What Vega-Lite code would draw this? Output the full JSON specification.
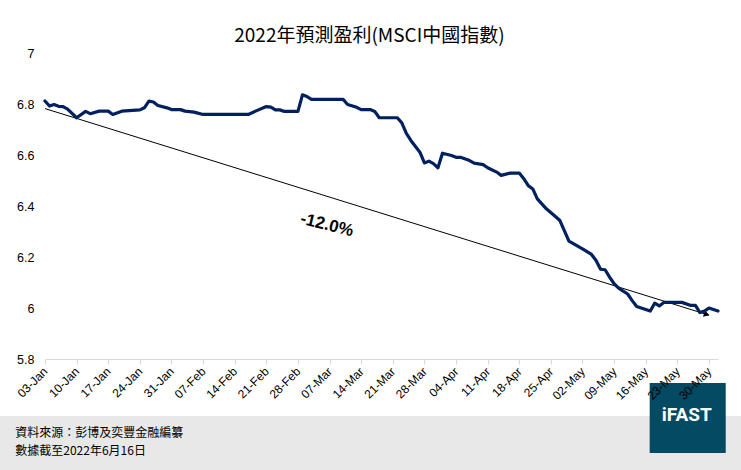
{
  "$schema": "https://vega.github.io/schema/vega-lite/v6.json",
  "width": 673,
  "height": 306,
  "autosize": {"type": "none"},
  "padding": {"left": 45, "top": 53, "right": 23, "bottom": 111},
  "background": "#ffffff",
  "config": {"view": {"stroke": null}},
  "title": {
    "text": "2022年預測盈利(MSCI中國指數)",
    "anchor": "middle",
    "font": "Noto Sans CJK TC",
    "fontSize": 19,
    "fontWeight": "normal",
    "color": "#000000",
    "offset": 1,
    "dx": -12
  },
  "datasets": {
    "eps": [
      {"date": "2022-01-03", "value": 6.812},
      {"date": "2022-01-04", "value": 6.792},
      {"date": "2022-01-05", "value": 6.798},
      {"date": "2022-01-06", "value": 6.791},
      {"date": "2022-01-07", "value": 6.79},
      {"date": "2022-01-08", "value": 6.78},
      {"date": "2022-01-10", "value": 6.746},
      {"date": "2022-01-12", "value": 6.771},
      {"date": "2022-01-13", "value": 6.762},
      {"date": "2022-01-15", "value": 6.772},
      {"date": "2022-01-17", "value": 6.772},
      {"date": "2022-01-18", "value": 6.759},
      {"date": "2022-01-20", "value": 6.772},
      {"date": "2022-01-24", "value": 6.777},
      {"date": "2022-01-25", "value": 6.785},
      {"date": "2022-01-26", "value": 6.811},
      {"date": "2022-01-27", "value": 6.808},
      {"date": "2022-01-28", "value": 6.794},
      {"date": "2022-01-30", "value": 6.785},
      {"date": "2022-01-31", "value": 6.778},
      {"date": "2022-02-02", "value": 6.778},
      {"date": "2022-02-03", "value": 6.772},
      {"date": "2022-02-05", "value": 6.768},
      {"date": "2022-02-07", "value": 6.759},
      {"date": "2022-02-17", "value": 6.759},
      {"date": "2022-02-19", "value": 6.775},
      {"date": "2022-02-21", "value": 6.79},
      {"date": "2022-02-22", "value": 6.788},
      {"date": "2022-02-23", "value": 6.777},
      {"date": "2022-02-24", "value": 6.777},
      {"date": "2022-02-25", "value": 6.771},
      {"date": "2022-02-28", "value": 6.771},
      {"date": "2022-03-01", "value": 6.836},
      {"date": "2022-03-02", "value": 6.829},
      {"date": "2022-03-03", "value": 6.818},
      {"date": "2022-03-10", "value": 6.818},
      {"date": "2022-03-11", "value": 6.798},
      {"date": "2022-03-13", "value": 6.787},
      {"date": "2022-03-14", "value": 6.778},
      {"date": "2022-03-16", "value": 6.778},
      {"date": "2022-03-17", "value": 6.771},
      {"date": "2022-03-18", "value": 6.746},
      {"date": "2022-03-22", "value": 6.746},
      {"date": "2022-03-23", "value": 6.726},
      {"date": "2022-03-24", "value": 6.685},
      {"date": "2022-03-25", "value": 6.657},
      {"date": "2022-03-27", "value": 6.611},
      {"date": "2022-03-28", "value": 6.569},
      {"date": "2022-03-29", "value": 6.576},
      {"date": "2022-03-30", "value": 6.566},
      {"date": "2022-03-31", "value": 6.55},
      {"date": "2022-04-01", "value": 6.607},
      {"date": "2022-04-03", "value": 6.598},
      {"date": "2022-04-04", "value": 6.591},
      {"date": "2022-04-05", "value": 6.591},
      {"date": "2022-04-07", "value": 6.578},
      {"date": "2022-04-08", "value": 6.568},
      {"date": "2022-04-10", "value": 6.562},
      {"date": "2022-04-11", "value": 6.55},
      {"date": "2022-04-13", "value": 6.533},
      {"date": "2022-04-14", "value": 6.52},
      {"date": "2022-04-16", "value": 6.529},
      {"date": "2022-04-18", "value": 6.529},
      {"date": "2022-04-19", "value": 6.507},
      {"date": "2022-04-20", "value": 6.48},
      {"date": "2022-04-21", "value": 6.467},
      {"date": "2022-04-22", "value": 6.428},
      {"date": "2022-04-24", "value": 6.389},
      {"date": "2022-04-26", "value": 6.359},
      {"date": "2022-04-27", "value": 6.343},
      {"date": "2022-04-29", "value": 6.262},
      {"date": "2022-05-02", "value": 6.232},
      {"date": "2022-05-04", "value": 6.21},
      {"date": "2022-05-05", "value": 6.186},
      {"date": "2022-05-06", "value": 6.152},
      {"date": "2022-05-07", "value": 6.15},
      {"date": "2022-05-08", "value": 6.121},
      {"date": "2022-05-09", "value": 6.095},
      {"date": "2022-05-10", "value": 6.078},
      {"date": "2022-05-12", "value": 6.055},
      {"date": "2022-05-13", "value": 6.029},
      {"date": "2022-05-14", "value": 6.006},
      {"date": "2022-05-17", "value": 5.988},
      {"date": "2022-05-18", "value": 6.019},
      {"date": "2022-05-19", "value": 6.008},
      {"date": "2022-05-20", "value": 6.022},
      {"date": "2022-05-24", "value": 6.022},
      {"date": "2022-05-26", "value": 6.01},
      {"date": "2022-05-27", "value": 6.01},
      {"date": "2022-05-28", "value": 5.982},
      {"date": "2022-05-29", "value": 5.988},
      {"date": "2022-05-30", "value": 6.0},
      {"date": "2022-06-01", "value": 5.988}
    ],
    "trend": [
      {"date": "2022-01-03", "value": 6.782},
      {"date": "2022-05-30", "value": 5.972}
    ],
    "arrow": [
      {"date": "2022-05-29T12:00:00Z", "value": 5.9747}
    ],
    "change": [
      {"date": "2022-03-06T10:00:00Z", "value": 6.3255, "label": "-12.0%"}
    ],
    "footer": [
      {"start": "2021-12-15T00:00:00Z", "end": "2022-06-20T00:00:00Z", "top": 5.5765, "bottom": 5.2}
    ],
    "logo": [
      {"start": "2022-05-16T21:00:00Z", "end": "2022-06-02T17:00:00Z", "top": 5.7059, "bottom": 5.4314, "mid": "2022-05-25T02:00:00Z", "centre": 5.5804, "label": "iFAST"}
    ],
    "source": [
      {"date": "2021-12-27T10:00:00Z", "value": 5.5275, "label": "資料來源：彭博及奕豐金融編纂"},
      {"date": "2021-12-27T10:00:00Z", "value": 5.4588, "label": "數據截至2022年6月16日"}
    ]
  },
  "encoding": {
    "x": {
      "field": "date",
      "type": "temporal",
      "scale": {
        "type": "utc",
        "domain": [
          {"year": 2022, "month": 1, "date": 3, "utc": true},
          {"year": 2022, "month": 6, "date": 1, "utc": true}
        ],
        "nice": false
      },
      "axis": {
        "title": null,
        "format": "%d-%b",
        "values": [
          {"year": 2022, "month": 1, "date": 3, "utc": true},
          {"year": 2022, "month": 1, "date": 10, "utc": true},
          {"year": 2022, "month": 1, "date": 17, "utc": true},
          {"year": 2022, "month": 1, "date": 24, "utc": true},
          {"year": 2022, "month": 1, "date": 31, "utc": true},
          {"year": 2022, "month": 2, "date": 7, "utc": true},
          {"year": 2022, "month": 2, "date": 14, "utc": true},
          {"year": 2022, "month": 2, "date": 21, "utc": true},
          {"year": 2022, "month": 2, "date": 28, "utc": true},
          {"year": 2022, "month": 3, "date": 7, "utc": true},
          {"year": 2022, "month": 3, "date": 14, "utc": true},
          {"year": 2022, "month": 3, "date": 21, "utc": true},
          {"year": 2022, "month": 3, "date": 28, "utc": true},
          {"year": 2022, "month": 4, "date": 4, "utc": true},
          {"year": 2022, "month": 4, "date": 11, "utc": true},
          {"year": 2022, "month": 4, "date": 18, "utc": true},
          {"year": 2022, "month": 4, "date": 25, "utc": true},
          {"year": 2022, "month": 5, "date": 2, "utc": true},
          {"year": 2022, "month": 5, "date": 9, "utc": true},
          {"year": 2022, "month": 5, "date": 16, "utc": true},
          {"year": 2022, "month": 5, "date": 23, "utc": true},
          {"year": 2022, "month": 5, "date": 30, "utc": true}
        ],
        "labelAngle": -45,
        "labelAlign": "right",
        "labelBaseline": "middle",
        "labelPadding": 5,
        "labelFont": "Liberation Sans",
        "labelFontSize": 12,
        "labelColor": "#000000",
        "labelOverlap": false,
        "labelFlush": false,
        "grid": false,
        "domainColor": "#d9d9d9",
        "tickColor": "#d9d9d9",
        "tickSize": 5,
        "zindex": 1
      }
    },
    "y": {
      "field": "value",
      "type": "quantitative",
      "scale": {"domain": [5.8, 7], "nice": false, "zero": false},
      "axis": {
        "title": null,
        "values": [5.8, 6, 6.2, 6.4, 6.6, 6.8, 7],
        "format": "~f",
        "grid": false,
        "domain": false,
        "ticks": false,
        "labelPadding": 11,
        "labelFont": "Liberation Sans",
        "labelFontSize": 12.5,
        "labelColor": "#000000"
      }
    }
  },
  "layer": [
    {
      "data": {"name": "footer"},
      "mark": {"type": "rect", "color": "#e8e8e8", "clip": false},
      "encoding": {
        "x": {"field": "start", "type": "temporal"},
        "x2": {"field": "end"},
        "y": {"field": "top", "type": "quantitative"},
        "y2": {"field": "bottom"}
      }
    },
    {
      "data": {"name": "trend"},
      "mark": {"type": "line", "color": "#000000", "strokeWidth": 1},
      "encoding": {}
    },
    {
      "data": {"name": "arrow"},
      "mark": {"type": "point", "shape": "triangle-right", "filled": true, "color": "#000000", "opacity": 1, "size": 45, "angle": 17},
      "encoding": {}
    },
    {
      "data": {"name": "eps"},
      "mark": {"type": "line", "color": "#002060", "strokeWidth": 3.2, "strokeJoin": "round", "strokeCap": "round"},
      "encoding": {}
    },
    {
      "data": {"name": "change"},
      "mark": {"type": "text", "font": "Liberation Sans", "fontSize": 17, "fontWeight": "bold", "color": "#000000", "angle": 14, "align": "center", "baseline": "middle"},
      "encoding": {"text": {"field": "label"}}
    },
    {
      "data": {"name": "logo"},
      "mark": {"type": "rect", "color": "#034a62", "clip": false},
      "encoding": {
        "x": {"field": "start", "type": "temporal"},
        "x2": {"field": "end"},
        "y": {"field": "top", "type": "quantitative"},
        "y2": {"field": "bottom"}
      }
    },
    {
      "data": {"name": "logo"},
      "mark": {"type": "text", "font": "Roboto", "fontSize": 19, "fontWeight": "bold", "color": "#ffffff", "align": "center", "baseline": "middle", "clip": false},
      "encoding": {
        "x": {"field": "mid", "type": "temporal"},
        "y": {"field": "centre", "type": "quantitative"},
        "text": {"field": "label"}
      }
    },
    {
      "data": {"name": "source"},
      "mark": {"type": "text", "font": "Noto Sans CJK TC", "fontSize": 12, "color": "#000000", "align": "left", "baseline": "top", "clip": false},
      "encoding": {"text": {"field": "label"}}
    }
  ]
}
